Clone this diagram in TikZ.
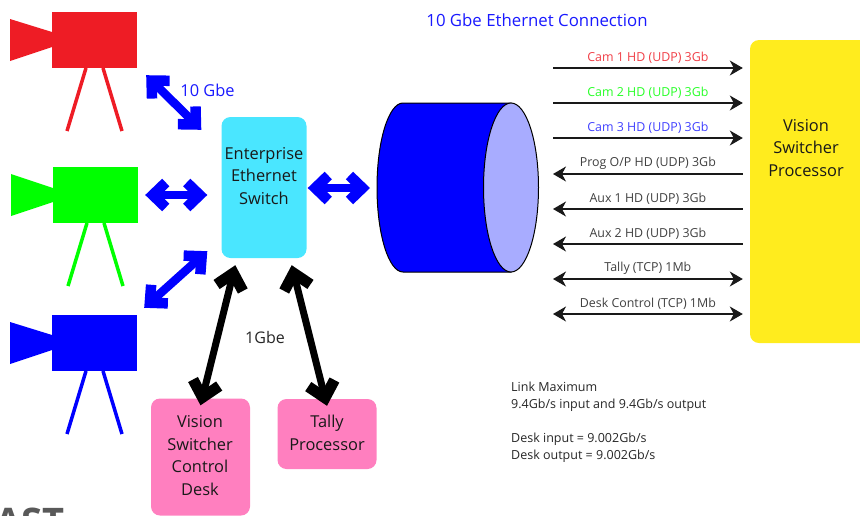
\documentclass[tikz,border=0pt]{standalone}
\usepackage{fontspec}
\setmainfont{Open Sans}
\usetikzlibrary{arrows.meta}

\definecolor{camred}{HTML}{EE1C25}
\definecolor{camgreen}{HTML}{00FF00}
\definecolor{camblue}{HTML}{0000FF}
\definecolor{switchcyan}{HTML}{4AE6FF}
\definecolor{procyellow}{HTML}{FFEC1E}
\definecolor{deskpink}{HTML}{FF7FBF}
\definecolor{lidblue}{HTML}{A8ACFF}

\begin{document}
\begin{tikzpicture}[
    x=1pt, y=-1pt,
    body/.style={minimum width=85pt, minimum height=56pt, inner sep=0pt},
    leg/.style={line width=3.5pt},
    box/.style={rounded corners=9pt, inner sep=0pt},
    boxtext/.style={align=center, font=\fontsize{16.4}{22.5}\selectfont, text=black!90, inner sep=0pt},
    fat/.style={line width=8.5pt, camblue, {Straight Barb[length=13pt, width=25pt, line width=10.5pt]}-{Straight Barb[length=13pt, width=25pt, line width=10.5pt]}},
    fatblack/.style={line width=7pt, black, {Straight Barb[length=15pt, width=27pt, line width=11pt]}-{Straight Barb[length=15pt, width=27pt, line width=11pt]}},
    flow/.style={line width=1.2pt, black!90, -{Stealth[length=13pt, width=15pt, inset=4pt]}},
    wolf/.style={line width=1.2pt, black!90, {Stealth[length=13pt, width=15pt, inset=4pt]}-},
    both/.style={line width=1.2pt, black!90, {Stealth[length=13pt, width=15pt, inset=4pt]}-{Stealth[length=13pt, width=15pt, inset=4pt]}},
    tag/.style={font=\fontsize{12.4}{14}\selectfont, text=black!75, above, inner sep=3.5pt},
    note/.style={font=\fontsize{12.5}{17}\selectfont, text=black!85, align=left, anchor=north west, inner sep=0pt}
]
    \useasboundingbox (0, 0) rectangle (860, 515);
    \clip (0, 0) rectangle (860, 515);

    % CAMERAS
    \node (cam_1) at (94.5, 40) [body, fill=camred] {};
    \fill[camred] (10, 19) -- (52, 32) -- (52, 47) -- (10, 61) -- cycle;
    \draw[camred, leg] (86, 68) -- (67, 131) (103, 68) -- (122, 131);
    \node (cam_2) at (95.5, 195) [body, fill=camgreen] {};
    \fill[camgreen] (11, 174) -- (53, 188) -- (53, 202) -- (11, 216) -- cycle;
    \draw[camgreen, leg] (87, 223) -- (68, 286) (104, 223) -- (123, 286);
    \node (cam_3) at (94.5, 343) [body, fill=camblue] {};
    \fill[camblue] (10, 322) -- (52, 335) -- (52, 350) -- (10, 364) -- cycle;
    \draw[camblue, leg] (86, 371) -- (67, 434) (103, 371) -- (122, 434);

    % SWITCH, PROCESSOR, DESK AND TALLY
    \node (switch) at (264, 187.5) [box, fill=switchcyan, minimum width=85pt, minimum height=141pt] {};
    \node (switch_text) at (264, 176) [boxtext] {Enterprise\\Ethernet\\Switch};
    \node (processor) at (810, 191.5) [box, fill=procyellow, minimum width=120pt, minimum height=303pt] {};
    \node (processor_text) at (806, 148) [boxtext] {Vision\\Switcher\\Processor};
    \node (desk) at (200.5, 457) [box, fill=deskpink, minimum width=99pt, minimum height=117pt] {};
    \node (desk_text) at (200, 455.5) [boxtext] {Vision\\Switcher\\Control\\Desk};
    \node (tally) at (327, 434) [box, fill=deskpink, minimum width=99pt, minimum height=70pt] {};
    \node (tally_text) at (327, 433) [boxtext] {Tally\\Processor};

    % CYLINDER
    \draw[fill=camblue, line width=1pt] (403, 103) -- (511, 103) -- (511, 272) -- (403, 272)
        arc[start angle=90, delta angle=180, x radius=26, y radius=84.5] -- cycle;
    \draw[fill=lidblue, line width=1pt] (511, 187.5) ellipse [x radius=27.5, y radius=84.5];
    \coordinate (cylinder_in) at (370, 188);

    % LINKS TO THE SWITCH
    \draw[fat] ([shift={(9, 7)}]cam_1.south east) -- ([shift={(-20, 13)}]switch.north west);
    \draw[fat] ([xshift=7]cam_2.east) -- ([xshift=-14]cam_2.east -| switch.west);
    \draw[fat] ([shift={(7, -7)}]cam_3.north east) -- ([shift={(-14, -7)}]switch.south west);
    \draw[fat] ([xshift=1]switch.east |- cylinder_in) -- (cylinder_in);
    \draw[fatblack] ([shift={(14, 7)}]switch.south west) -- ([yshift=-7]desk.north);
    \draw[fatblack] ([shift={(-15, 7)}]switch.south east) -- ([yshift=-7]tally.north);

    % FLOWS TO AND FROM THE PROCESSOR
    \coordinate (flow_1) at (553, 68);
    \coordinate (flow_2) at (553, 103);
    \coordinate (flow_3) at (553, 138);
    \coordinate (flow_4) at (553, 174);
    \coordinate (flow_5) at (553, 209);
    \coordinate (flow_6) at (553, 244);
    \coordinate (flow_7) at (553, 279);
    \coordinate (flow_8) at (553, 314);
    \draw[flow] (flow_1) -- node[tag, text=camred!85!white]{Cam 1 HD (UDP) 3Gb} ([xshift=-7]flow_1 -| processor.west);
    \draw[flow] (flow_2) -- node[tag, text=camgreen!85!white]{Cam 2 HD (UDP) 3Gb} ([xshift=-7]flow_2 -| processor.west);
    \draw[flow] (flow_3) -- node[tag, text=camblue!75!white]{Cam 3 HD (UDP) 3Gb} ([xshift=-7]flow_3 -| processor.west);
    \draw[wolf] (flow_4) -- node[tag]{Prog O/P HD (UDP) 3Gb} ([xshift=-7]flow_4 -| processor.west);
    \draw[wolf] (flow_5) -- node[tag]{Aux 1 HD (UDP) 3Gb} ([xshift=-7]flow_5 -| processor.west);
    \draw[wolf] (flow_6) -- node[tag]{Aux 2 HD (UDP) 3Gb} ([xshift=-7]flow_6 -| processor.west);
    \draw[both] (flow_7) -- node[tag]{Tally (TCP) 1Mb} ([xshift=-7]flow_7 -| processor.west);
    \draw[both] (flow_8) -- node[tag]{Desk Control (TCP) 1Mb} ([xshift=-7]flow_8 -| processor.west);

    % TEXTS
    \node (title) at (537, 20) [font=\fontsize{16.8}{18}\selectfont, text=camblue!90!white] {10 Gbe Ethernet Connection};
    \node (label_10) at (207.5, 90) [font=\fontsize{16.4}{18}\selectfont, text=camblue!90!white] {10 Gbe};
    \node (label_1) at (265, 337) [font=\fontsize{16}{18}\selectfont, text=black!85] {1Gbe};
    \node (limits) at (511, 382) [note] {Link Maximum\\9.4Gb/s input and 9.4Gb/s output\\[17pt]Desk input = 9.002Gb/s\\Desk output = 9.002Gb/s};
    \node (logo) at (-5, 535) [anchor=base west, inner sep=0pt, font=\fontsize{38}{38}\selectfont\bfseries, text=black!65] {AST};
\end{tikzpicture}
\end{document}
